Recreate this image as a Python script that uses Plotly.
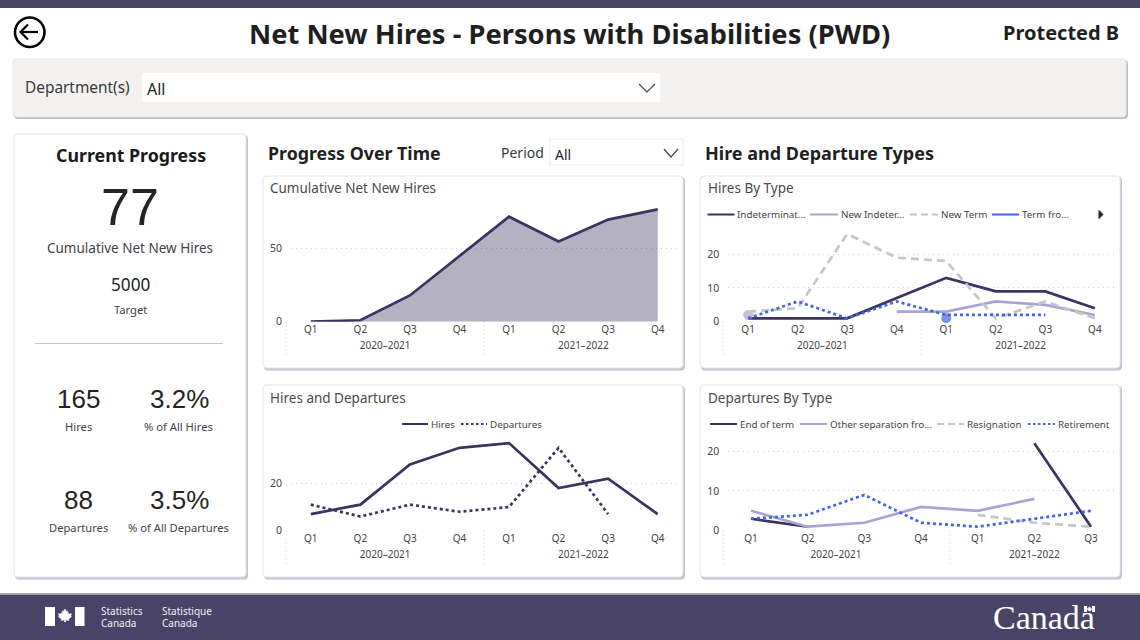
import plotly.graph_objects as go

W, H = 1140, 640
FONT = "Noto Sans"
DARK = "#3b3360"
LAV = "#a9a5d2"
GREY = "#c8c6c4"
BLUE = "#4064e6"
BAND = "#4a4368"
TXT = "#252423"
SUB = "#3f3f48"

years = ["2020–2021"] * 4 + ["2021–2022"] * 4
quarters = ["Q1", "Q2", "Q3", "Q4", "Q1", "Q2", "Q3", "Q4"]
years_dep = ["2020–2021"] * 4 + ["2021–2022"] * 3
quarters_dep = ["Q1", "Q2", "Q3", "Q4", "Q1", "Q2", "Q3"]

cumulative = [0, 1, 18, 45, 72, 55, 70, 77]
hires = [7, 11, 28, 35, 37, 18, 22, 7]
departures = [11, 6, 11, 8, 10, 35, 7, None]

ht_indeterminate = [1, 1, 1, 7, 13, 9, 9, 4]
ht_new_indeterminate = [2, None, None, 3, 3, 6, 5, 2]
ht_new_term = [3, 4, 26, 19, 18, 1, 6, 1]
ht_term_from = [None, None, None, None, 1, None, None, None]
ht_fifth = [1, 6, 1, 6, 2, 2, 2, None]

dt_end_of_term = [3, 1, None, None, None, 22, 1]
dt_other = [5, 1, 2, 6, 5, 8, None]
dt_resignation = [None, None, None, None, 4, 2, 1]
dt_retirement = [3, 4, 9, 2, 1, 3, 5]


def px(x):
    return x / W


def py(y):
    return 1 - y / H


shapes, annos = [], []


def rect(x0, y0, x1, y1, fill, line=None, layer="below"):
    shapes.append(dict(type="rect", xref="paper", yref="paper", x0=px(x0), x1=px(x1),
                       y0=py(y0), y1=py(y1), fillcolor=fill, layer=layer,
                       line=dict(width=1 if line else 0, color=line or fill)))


def path(points, color, width=1.5, fill=None, close=False, dash=None, layer="below"):
    d = "M " + " L ".join(f"{px(a):.5f},{py(b):.5f}" for a, b in points) + (" Z" if close else "")
    shapes.append(dict(type="path", xref="paper", yref="paper", path=d, layer=layer,
                       fillcolor=fill or "rgba(0,0,0,0)",
                       line=dict(color=color, width=width, dash=dash or "solid")))


def rounded(x0, y0, x1, y1, r, fill, line=None):
    d = (f"M {px(x0+r):.5f},{py(y0):.5f} L {px(x1-r):.5f},{py(y0):.5f} "
         f"Q {px(x1):.5f},{py(y0):.5f} {px(x1):.5f},{py(y0+r):.5f} "
         f"L {px(x1):.5f},{py(y1-r):.5f} Q {px(x1):.5f},{py(y1):.5f} {px(x1-r):.5f},{py(y1):.5f} "
         f"L {px(x0+r):.5f},{py(y1):.5f} Q {px(x0):.5f},{py(y1):.5f} {px(x0):.5f},{py(y1-r):.5f} "
         f"L {px(x0):.5f},{py(y0+r):.5f} Q {px(x0):.5f},{py(y0):.5f} {px(x0+r):.5f},{py(y0):.5f} Z")
    shapes.append(dict(type="path", xref="paper", yref="paper", path=d, layer="below",
                       fillcolor=fill, line=dict(color=line or fill, width=1 if line else 0)))


def card(x0, y0, x1, y1, fill="#ffffff"):
    rounded(x0 + 1, y0 + 1, x1 + 2, y1 + 2.5, 4, "#c6c4d0")
    rounded(x0, y0, x1, y1, 4, fill, "#e6e6ea")


def text(x, y, s, size, color=TXT, anchor="center", bold=False, family=FONT):
    if anchor == "left":
        x -= 2
    annos.append(dict(xref="paper", yref="paper", x=px(x), y=py(y), text=f"<b>{s}</b>" if bold else s,
                      showarrow=False, xanchor=anchor, yanchor="middle",
                      font=dict(family=family, size=size, color=color)))


def leaf(cx, cy, s, color):
    pts = [(0, -1), (.22, -.62), (.42, -.72), (.34, -.22), (.58, -.42), (.66, -.22), (1, -.28),
           (.88, .08), (1, .18), (.52, .56), (.6, .78), (.08, .68), (.08, 1), (-.08, 1), (-.08, .68),
           (-.6, .78), (-.52, .56), (-1, .18), (-.88, .08), (-1, -.28), (-.66, -.22), (-.58, -.42),
           (-.34, -.22), (-.42, -.72), (-.22, -.62)]
    path([(cx + a * s, cy + b * s) for a, b in pts], color, 0.5, fill=color, close=True)


# Frame bands
rect(0, 0, W, 8, BAND)
rect(0, 593, W, 595, "#a5a2b5")
rect(0, 595, W, H, BAND)

# Header
shapes.append(dict(type="circle", xref="paper", yref="paper", x0=px(15), x1=px(44.5), y0=py(17.5), y1=py(47),
                   layer="below", line=dict(color="#000000", width=2.6)))
path([(38, 32), (21, 32)], "#000000", 2.2)
path([(28, 24.5), (20.5, 32), (28, 39.5)], "#000000", 2.2)
text(569, 34, "Net New Hires - Persons with Disabilities (PWD)", 27.3, "#1f1f1f", bold=True)
text(1061, 33, "Protected B", 20, "#1f1f1f", bold=True)

# Filter bar
rounded(14, 60, 1128, 119, 4, "#bdbbc9")
rounded(13, 59, 1126, 117, 4, "#f3f2f1", "#e8e7e6")
rect(142, 73, 660, 102, "#ffffff")
text(25, 88, "Department(s)", 15.4, "#3a3a3a", "left")
text(147, 89, "All", 16, "#252423", "left")
path([(639, 84), (647, 92), (655, 84)], "#444444", 1.2)

# Section headers
text(268, 153, "Progress Over Time", 17.8, "#1f1f1f", "left", True)
text(705, 153, "Hire and Departure Types", 18, "#1f1f1f", "left", True)
text(501, 153, "Period", 14, "#3a3a3a", "left")
rect(550, 139, 683, 165, "#ffffff", "#eeeeee")
text(555, 154, "All", 14, "#252423", "left")
path([(664, 149), (671, 157), (678, 149)], "#444444", 1.2)

# KPI card
card(14, 134, 246, 577)
text(131, 155, "Current Progress", 17.8, "#1a1a1a", bold=True)
text(130, 207, "77", 52, "#252423", family="Liberation Sans")
text(130, 248, "Cumulative Net New Hires", 13.5, SUB)
text(130, 284, "5000", 17.2, "#252423")
text(130, 309, "Target", 11.2, SUB)
rect(35, 343, 223, 344, "#c8c6c4")
text(79, 399, "165", 26, "#252423", family="Liberation Sans")
text(179, 399, "3.2%", 26, "#252423", family="Liberation Sans")
text(78, 426, "Hires", 11.2, SUB)
text(178, 426, "% of All Hires", 11.2, SUB)
text(79, 500, "88", 26, "#252423", family="Liberation Sans")
text(179, 500, "3.5%", 26, "#252423", family="Liberation Sans")
text(78, 527, "Departures", 11.2, SUB)
text(178, 527, "% of All Departures", 11.2, SUB)

# Chart cards
card(263, 176, 683, 368)
card(700, 176, 1120, 368)
card(263, 385, 683, 577)
card(700, 385, 1120, 577)
text(270, 188, "Cumulative Net New Hires", 13.5, "#4a4a4a", "left")
text(708, 188, "Hires By Type", 13.5, "#4a4a4a", "left")
text(270, 398, "Hires and Departures", 13.5, "#4a4a4a", "left")
text(708, 398, "Departures By Type", 13.5, "#4a4a4a", "left")

# Footer marks
rect(45, 607, 55, 626, "#ffffff")
rect(75, 607, 84.5, 626, "#ffffff")
leaf(65, 615.5, 6.5, "#ffffff")
text(100.5, 611, "Statistics", 10, "#f0eff5", "left")
text(100.5, 623, "Canada", 10, "#f0eff5", "left")
text(162, 611, "Statistique", 10, "#f0eff5", "left")
text(162, 623, "Canada", 10, "#f0eff5", "left")
text(1044, 617, "Canada", 34, "#ffffff", family="Liberation Serif")
rect(1084, 606, 1087, 612, "#ffffff")
rect(1092, 606, 1095, 612, "#ffffff")
leaf(1089.5, 609, 2.2, "#ffffff")


# Hand-positioned legends
def legend_item(x, y, sample_w, label, color, dash="solid"):
    path([(x, y), (x + sample_w, y)], color, 2, dash=dash)
    text(x + sample_w + 2.5, y, label, 9.8, "#444444", "left")


legend_item(707.5, 214.5, 27, "Indeterminat...", DARK)
legend_item(810, 214.5, 28, "New Indeter...", LAV)
legend_item(910, 214.5, 28, "New Term", GREY, "7px,4px")
legend_item(992, 214.5, 27, "Term fro...", BLUE)
path([(1099, 210.5), (1103, 214.5), (1099, 218.5)], "#252423", 1, fill="#252423", close=True)

legend_item(402, 424, 26, "Hires", DARK)
legend_item(461, 424, 26, "Departures", DARK, "2.5px,2.5px")

legend_item(710, 424, 27, "End of term", DARK)
legend_item(800, 424, 27, "Other separation fro...", LAV)
legend_item(937, 424, 27, "Resignation", GREY, "7px,4px")
legend_item(1028, 424, 27, "Retirement", BLUE, "2.5px,2.5px")


fig = go.Figure()

PANELS = {
    1: dict(x=(291, 677.5), y=(205, 321.7), yr=(0, 80), ticks=[0, 50], div=(286, 483.7), bottom=356),
    2: dict(x=(728.3, 1114.7), y=(230, 321.7), yr=(0, 27.2), ticks=[0, 10, 20], div=(723.3, 921), bottom=356),
    3: dict(x=(291, 677.5), y=(440, 530.7), yr=(0, 38.3), ticks=[0, 20], div=(286, 483.7), bottom=566),
    4: dict(x=(728.3, 1113.7), y=(440, 530.7), yr=(0, 22.8), ticks=[0, 10, 20], div=(723.3, 950), bottom=566),
}
XRANGE = {1: (-0.4, 7.4), 2: (-0.4, 7.4), 3: (-0.4, 7.4), 4: (-0.4, 6.4)}

layout_axes = {}
for n, p in PANELS.items():
    xa = "xaxis" if n == 1 else f"xaxis{n}"
    ya = "yaxis" if n == 1 else f"yaxis{n}"
    layout_axes[xa] = dict(type="multicategory", domain=[px(p["x"][0]), px(p["x"][1])], anchor=f"y{'' if n == 1 else n}",
                           range=list(XRANGE[n]), showdividers=False, showgrid=False, zeroline=False, showline=False,
                           automargin=False, ticks="outside", ticklen=2.5, tickcolor="rgba(0,0,0,0)",
                           tickfont=dict(family=FONT, size=10, color="#444444"))
    layout_axes[ya] = dict(domain=[py(p["y"][1]), py(p["y"][0])], anchor=f"x{'' if n == 1 else n}",
                           range=list(p["yr"]), tickmode="array", tickvals=p["ticks"], showgrid=True,
                           gridcolor="#cfcfcf", griddash="1px,4px", gridwidth=1, zeroline=False, showline=False,
                           automargin=False, ticks="outside", ticklen=6, tickcolor="rgba(0,0,0,0)",
                           tickfont=dict(family=FONT, size=10.5, color="#444444"))
    for dx in p["div"]:
        path([(dx, p["y"][1]), (dx, p["bottom"])], "#d0d0d0", 1, dash="1px,3px")


def add(n, xs, ys, name, color, dash="solid", width=2.7, fill=None):
    suffix = "" if n == 1 else str(n)
    sizes = []
    for i, v in enumerate(ys):
        before = ys[i - 1] if i > 0 else None
        after = ys[i + 1] if i < len(ys) - 1 else None
        sizes.append(10 if v is not None and before is None and after is None else 0)
    fig.add_trace(go.Scatter(x=xs, y=ys, name=name, mode="lines+markers", xaxis=f"x{suffix}", yaxis=f"y{suffix}",
                             line=dict(color=color, width=width, dash=dash), marker=dict(size=sizes, color=color, line=dict(width=0)),
                             fill=fill, fillcolor="rgba(59,51,96,0.38)" if fill else None,
                             showlegend=False, cliponaxis=False, hoverinfo="skip"))


x8 = [years, quarters]
x7 = [years_dep, quarters_dep]
DOT = "3px,3px"
DASH = "8px,5px"

add(1, x8, cumulative, "Cumulative Net New Hires", DARK, fill="tozeroy")
add(2, x8, ht_indeterminate, "Indeterminate", DARK)
add(2, x8, ht_new_indeterminate, "New Indeterminate", LAV)
add(2, x8, ht_new_term, "New Term", GREY, DASH)
add(2, x8, ht_term_from, "Term from", BLUE)
add(2, x8, ht_fifth, "Other", BLUE, DOT)
add(3, x8, hires, "Hires", DARK)
add(3, x8, departures, "Departures", DARK, DOT)
add(4, x7, dt_end_of_term, "End of term", DARK)
add(4, x7, dt_other, "Other separation", LAV)
add(4, x7, dt_resignation, "Resignation", GREY, DASH)
add(4, x7, dt_retirement, "Retirement", BLUE, DOT)

fig.update_layout(width=W, height=H, margin=dict(l=0, r=0, t=0, b=0, autoexpand=False), autosize=False,
                  paper_bgcolor="#ffffff", plot_bgcolor="rgba(0,0,0,0)", showlegend=False,
                  font=dict(family=FONT), shapes=shapes, annotations=annos, **layout_axes)

fig.write_html("out.html", config=dict(displayModeBar=False),
               post_script="document.body.style.margin='0';document.body.style.overflow='hidden';document.documentElement.style.overflow='hidden';")
